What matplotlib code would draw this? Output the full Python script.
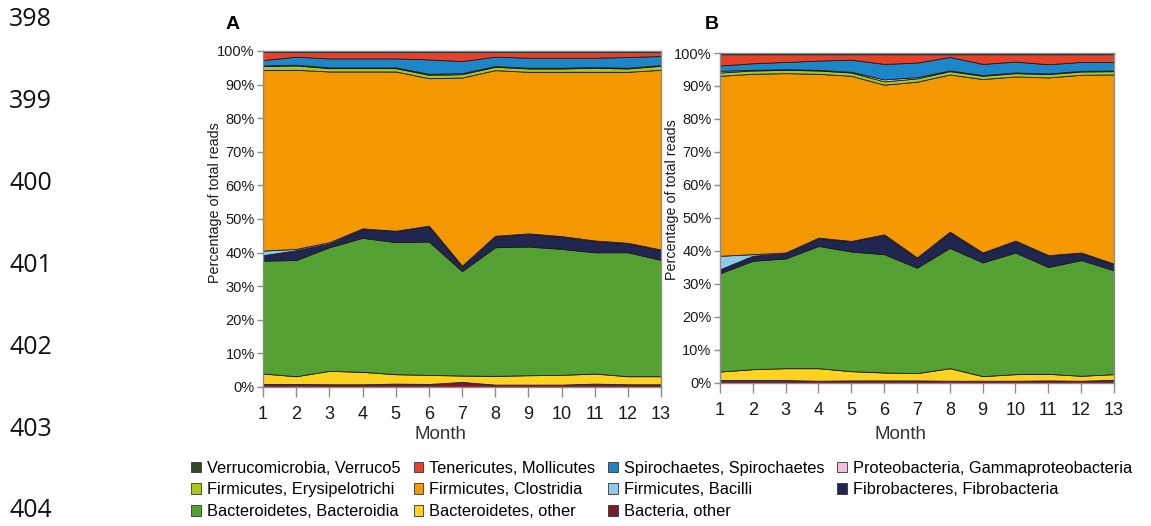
import matplotlib.pyplot as plt
from matplotlib.patches import Patch
from matplotlib.ticker import FuncFormatter

plt.rcParams['font.family'] = ['Liberation Sans', 'DejaVu Sans']

months = list(range(1, 13))
months.append(13)

# taxa, bottom of the stack first
taxa = ['Bacteria, other', 'Bacteroidetes, other', 'Bacteroidetes, Bacteroidia',
        'Fibrobacteres, Fibrobacteria', 'Firmicutes, Bacilli', 'Firmicutes, Clostridia',
        'Firmicutes, Erysipelotrichi', 'Proteobacteria, Gammaproteobacteria',
        'Spirochaetes, Spirochaetes', 'Tenericutes, Mollicutes', 'Verrucomicrobia, Verruco5']
colors = ['#7b1a2c', '#ffd21f', '#55a032', '#20264f', '#8ecaf0', '#f39800',
          '#a9c71f', '#f2bedb', '#1c86c9', '#e8412a', '#3a4524']

# panel A, percent of reads per month
a_bact_other = [0.9, 0.9, 0.8, 0.8, 1.0, 0.9, 1.5, 0.7, 0.7, 0.7, 1.0, 0.8, 0.8]
a_bacteroidetes_other = [3.1, 2.3, 4.0, 3.7, 2.8, 2.7, 1.9, 2.6, 2.8, 2.9, 3.0, 2.4, 2.4]
a_bacteroidia = [33.6, 34.6, 36.8, 39.9, 39.3, 39.7, 31.1, 38.3, 38.3, 37.5, 36.1, 36.9, 34.6]
a_fibrobacteria = [1.6, 2.9, 1.1, 2.6, 3.3, 4.6, 1.5, 3.3, 3.8, 3.6, 3.3, 2.7, 3.0]
a_bacilli = [1.4, 0.4, 0.4, 0.2, 0.1, 0.1, 0.1, 0.1, 0.1, 0.2, 0.2, 0.1, 0.1]
a_clostridia = [53.7, 53.3, 50.8, 46.7, 47.4, 43.9, 56.0, 49.3, 48.1, 48.9, 50.2, 50.9, 53.5]
a_erysipelotrichi = [1.2, 1.3, 1.0, 1.0, 1.0, 1.0, 1.0, 1.0, 1.0, 1.0, 1.2, 1.0, 1.2]
a_gammaproteo = [0.2, 0.2, 0.2, 0.2, 0.2, 0.3, 0.3, 0.2, 0.2, 0.2, 0.2, 0.2, 0.2]
a_spirochaetes = [1.6, 2.4, 2.7, 2.7, 2.7, 4.3, 3.6, 2.8, 3.0, 3.0, 2.8, 3.2, 2.7]
a_mollicutes = [2.4, 1.4, 1.9, 1.9, 1.9, 2.2, 2.7, 1.4, 1.7, 1.7, 1.7, 1.5, 1.2]
a_verruco5 = [0.3, 0.3, 0.3, 0.3, 0.3, 0.3, 0.3, 0.3, 0.3, 0.3, 0.3, 0.3, 0.3]

# panel B
b_bact_other = [0.8, 0.8, 0.8, 0.6, 0.7, 0.7, 0.7, 0.6, 0.6, 0.6, 0.7, 0.6, 0.9]
b_bacteroidetes_other = [2.6, 3.3, 3.6, 3.8, 2.8, 2.4, 2.2, 3.8, 1.4, 2.0, 2.0, 1.5, 1.7]
b_bacteroidia = [29.8, 32.9, 33.3, 37.1, 36.3, 35.9, 32.0, 36.5, 34.5, 36.9, 32.4, 35.1, 31.5]
b_fibrobacteria = [1.2, 1.5, 1.6, 2.4, 3.1, 5.9, 3.0, 4.8, 2.9, 3.5, 3.4, 2.2, 1.9]
b_bacilli = [4.1, 0.5, 0.2, 0.1, 0.1, 0.1, 0.1, 0.1, 0.1, 0.1, 0.2, 0.1, 0.1]
b_clostridia = [54.6, 54.7, 54.4, 49.7, 50.1, 45.4, 53.3, 47.7, 52.6, 49.8, 53.9, 53.9, 57.4]
b_erysipelotrichi = [1.0, 1.0, 1.0, 1.0, 1.0, 1.0, 1.0, 1.0, 1.0, 1.0, 1.0, 1.0, 1.0]
b_gammaproteo = [0.5, 0.2, 0.2, 0.2, 0.2, 0.6, 0.4, 0.2, 0.2, 0.2, 0.2, 0.2, 0.2]
b_spirochaetes = [1.6, 2.0, 2.2, 2.8, 3.7, 4.7, 4.4, 4.1, 3.4, 3.3, 2.8, 2.7, 2.6]
b_mollicutes = [3.4, 2.7, 2.3, 1.9, 1.6, 2.9, 2.5, 0.8, 2.9, 2.2, 3.0, 2.3, 2.3]
b_verruco5 = [0.4, 0.4, 0.4, 0.4, 0.4, 0.4, 0.4, 0.4, 0.4, 0.4, 0.4, 0.4, 0.4]

panel_a = [a_bact_other, a_bacteroidetes_other, a_bacteroidia, a_fibrobacteria, a_bacilli,
           a_clostridia, a_erysipelotrichi, a_gammaproteo, a_spirochaetes, a_mollicutes, a_verruco5]
panel_b = [b_bact_other, b_bacteroidetes_other, b_bacteroidia, b_fibrobacteria, b_bacilli,
           b_clostridia, b_erysipelotrichi, b_gammaproteo, b_spirochaetes, b_mollicutes, b_verruco5]

line_numbers = ['398', '399', '400', '401', '402', '403', '404']

fig = plt.figure(figsize=(11.51, 5.26), dpi=100)

ax_a = fig.add_axes([0.2285, 0.2643, 0.3458, 0.6388])
ax_b = fig.add_axes([0.6255, 0.2724, 0.3423, 0.6268])

panels = [(ax_a, panel_a, 'A', 0.1955, 0.445, -0.116, 0.548),
          (ax_b, panel_b, 'B', 0.6125, 0.457, -0.131, 0.554)]

for ax, data, letter, letter_x, month_x, month_y, ylab_y in panels:
    ax.stackplot(months, data, colors=colors, edgecolor='#1a1a1a', linewidth=0.6)
    ax.set_xlim(1, 13)
    ax.set_ylim(0, 100)
    ax.set_xticks(months)
    ax.set_yticks(range(0, 101, 10))
    ax.yaxis.set_major_formatter(FuncFormatter(lambda v, p: f'{v:.0f}%'))
    for s in ax.spines.values():
        s.set_color('#8c8c8c')
        s.set_linewidth(1.0)
    ax.tick_params(axis='x', direction='out', length=7, width=1, color='#8c8c8c',
                   labelsize=13, pad=7, labelcolor='#1a1a1a')
    ax.tick_params(axis='y', direction='out', length=4, width=1, color='#8c8c8c',
                   labelsize=10.5, pad=2, labelcolor='#1a1a1a')
    ax.set_xlabel('Month', fontsize=13.5, color='#333333')
    ax.xaxis.set_label_coords(month_x, month_y)
    ax.set_ylabel('Percentage of total reads', fontsize=10.3, color='#1a1a1a')
    ax.yaxis.set_label_coords(-0.103, ylab_y)
    fig.text(letter_x, 0.9525, letter, fontsize=14, fontweight='bold',
             ha='left', va='center')

# legend reads row by row, matplotlib fills it column by column
order = [10, 6, 2, 9, 5, 1, 8, 4, 0, 7, 3]
handles = [Patch(facecolor=colors[i], edgecolor='#333333', linewidth=0.6, label=taxa[i])
           for i in order]
fig.legend(handles=handles, ncol=4, loc='upper left', bbox_to_anchor=(0.159, 0.14),
           frameon=False, fontsize=11.8, handlelength=0.6, handleheight=0.6,
           handletextpad=0.35, columnspacing=0.8, labelspacing=0.42, borderpad=0)

for i, num in enumerate(line_numbers):
    fig.text(0.008, 1 - (20 + 81.8 * i) / 526, num, fontsize=18, family='Open Sans',
             va='center', ha='left', color='#111111')

fig.savefig('out.png', dpi=100)
